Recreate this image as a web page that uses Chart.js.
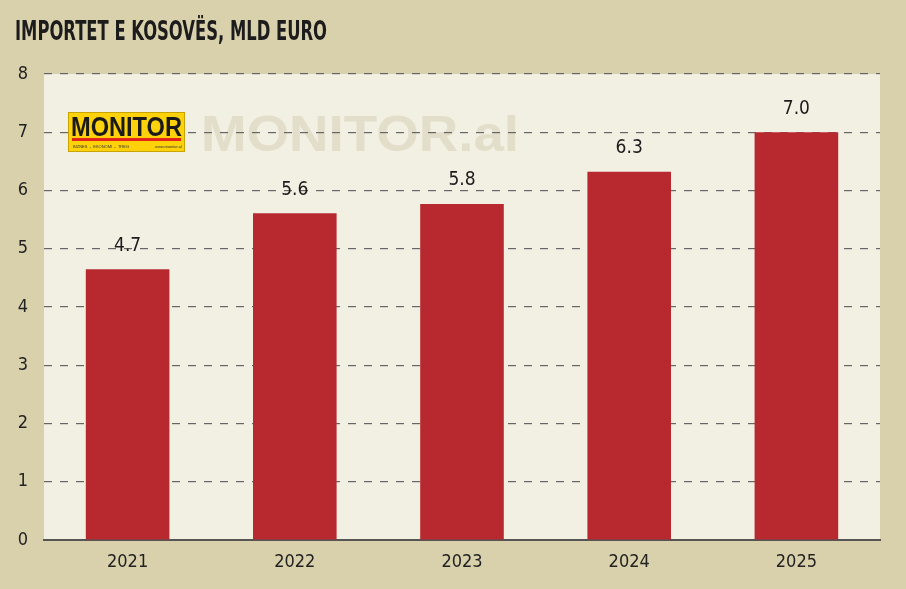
<!DOCTYPE html>
<html>
<head>
<meta charset="utf-8">
<script src="https://cdn.jsdelivr.net/npm/chart.js@4/dist/chart.umd.min.js"></script>
<style>
  html, body { margin: 0; padding: 0; background: #D9D0AC; }
  #wrap { width: 906px; height: 589px; position: relative; }
</style>
</head>
<body>
<div id="wrap"><canvas id="importChart" width="906" height="589"></canvas></div>
<script>
// Datos
const YEARS = ['2021', '2022', '2023', '2024', '2025'];
const IMPORTS = [4.65, 5.61, 5.77, 6.32, 7.0];
const VALUE_LABELS = ['4.7', '5.6', '5.8', '6.3', '7.0'];
const TITLE = 'IMPORTET E KOSOVËS, MLD EURO';

const NARROW = '"DejaVu Sans Condensed", "Liberation Sans Narrow", "Roboto", sans-serif';

// texto estrechado para que quepa en un ancho dado
function fitText(ctx, text, x, y, width) {
    const w = ctx.measureText(text).width;
    ctx.save();
    ctx.translate(x, y);
    ctx.scale(width / w, 1);
    ctx.fillText(text, 0, 0);
    ctx.restore();
}

// fondo del área del gráfico + marca de agua
const backdrop = {
    id: 'backdrop',
    beforeDraw(chart) {
        const { ctx, chartArea: a } = chart;
        ctx.save();
        ctx.fillStyle = '#F2EFE3';
        ctx.fillRect(a.left, a.top, a.right - a.left, a.bottom - a.top);

        ctx.fillStyle = '#E3DECA';
        ctx.font = 'bold 50px "Liberation Sans", Arial, sans-serif';
        ctx.textBaseline = 'alphabetic';
        fitText(ctx, 'MONITOR.al', 201, 151, 318);
        ctx.restore();
    },
    // logo encima de la rejilla
    beforeDatasetsDraw(chart) {
        const { ctx } = chart;
        ctx.save();
        ctx.fillStyle = '#FDD20A';
        ctx.fillRect(68, 112, 117, 40);
        ctx.strokeStyle = '#C9A400';
        ctx.lineWidth = 1;
        ctx.strokeRect(68.5, 112.5, 116, 39);
        ctx.fillStyle = '#1a1a1a';
        ctx.font = 'bold 27px "Liberation Sans", Arial, sans-serif';
        ctx.textBaseline = 'alphabetic';
        fitText(ctx, 'MONITOR', 71, 136, 111);
        ctx.fillStyle = '#E2231A';
        ctx.fillRect(72, 138, 109, 3);
        ctx.fillStyle = '#333';
        ctx.font = '4px sans-serif';
        ctx.fillText('BIZNES  -  EKONOMI  -  TREG', 73, 148);
        ctx.fillText('www.monitor.al', 155, 148);
        ctx.restore();
    }
};

// título y etiquetas de valor
const labels = {
    id: 'labels',
    afterDatasetsDraw(chart) {
        const { ctx } = chart;
        ctx.save();
        ctx.fillStyle = '#1c1c1c';
        ctx.font = 'bold 27px ' + NARROW;
        ctx.textBaseline = 'alphabetic';
        ctx.textAlign = 'left';
        fitText(ctx, TITLE, 15, 40, 312);

        ctx.font = '19px ' + NARROW;
        ctx.textAlign = 'center';
        ctx.textBaseline = 'bottom';
        chart.getDatasetMeta(0).data.forEach((bar, i) => {
            ctx.fillText(VALUE_LABELS[i], bar.x, bar.y - 14);
        });
        ctx.restore();
    }
};

new Chart(document.getElementById('importChart'), {
    type: 'bar',
    data: {
        labels: YEARS,
        datasets: [{
            data: IMPORTS,
            backgroundColor: '#B8282F',
            barPercentage: 0.5,
            categoryPercentage: 1.0
        }]
    },
    options: {
        responsive: false,
        animation: false,
        layout: { padding: { top: 74, right: 26, left: 0, bottom: 0 } },
        plugins: {
            legend: { display: false },
            tooltip: { enabled: false }
        },
        scales: {
            x: {
                afterFit(scale) { scale.height = 49; },
                grid: { display: false },
                border: { color: '#555', width: 2 },
                ticks: { color: '#222', font: { family: NARROW, size: 18 }, padding: 4 }
            },
            y: {
                min: 0,
                max: 8,
                afterFit(scale) { scale.width = 44; },
                border: { display: false, dash: [8, 8] },
                grid: { color: '#666', lineWidth: 1.2, drawTicks: false },
                ticks: { stepSize: 1, color: '#222', font: { family: NARROW, size: 18 }, padding: 16 }
            }
        }
    },
    plugins: [backdrop, labels]
});
</script>
</body>
</html>
